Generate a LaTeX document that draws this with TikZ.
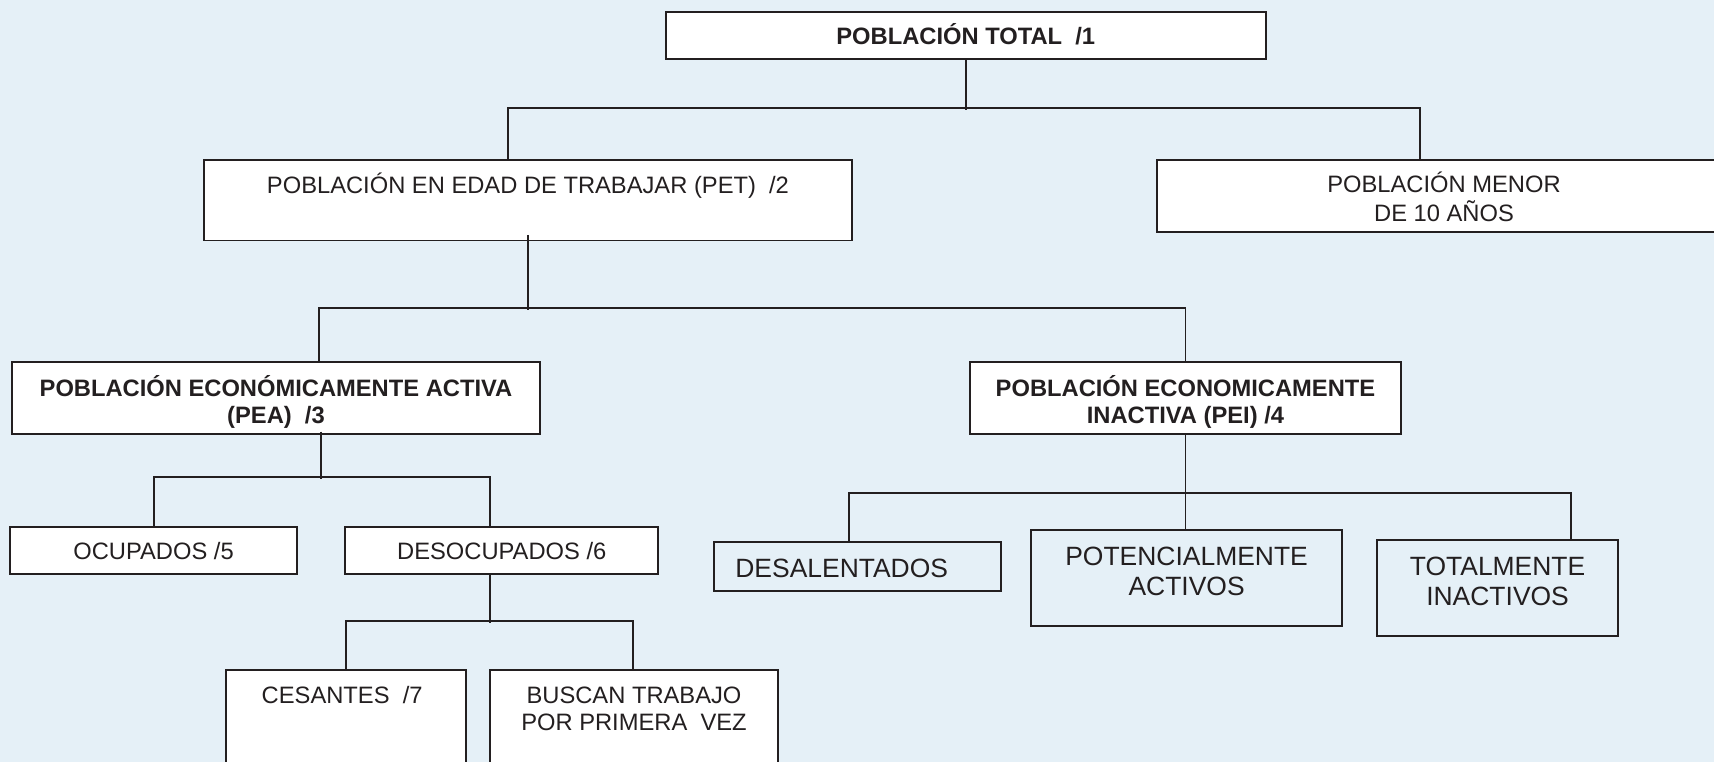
\documentclass[tikz,border=0pt]{standalone}
\usepackage{fontspec}
\setmainfont{Liberation Sans}
\definecolor{bg}{RGB}{229,240,247}
\definecolor{ink}{RGB}{35,31,32}
\newcommand{\T}[2]{\raisebox{#1}[\height][\depth]{\begin{tabular}{@{}c@{}}#2\end{tabular}}}
\begin{document}
\begin{tikzpicture}[x=1pt,y=-1pt,
  conn/.style={draw=ink, line width=1.8pt},
  box/.style={draw=ink, fill=white, line width=1.8pt, inner sep=0pt, text=ink, font=\fontsize{21.7}{24.5}\selectfont},
  bbox/.style={draw=ink, fill=bg, line width=1.8pt, inner sep=0pt, text=ink, font=\fontsize{24.2}{27.5}\selectfont},
  boldtext/.style={font=\fontsize{21.7}{25}\selectfont\bfseries}]
\fill[bg] (0,0) rectangle (1568,697);
\useasboundingbox (0,0) rectangle (1568,697);
\clip (0,0) rectangle (1568,697);

\node[box, boldtext, minimum width=549pt, minimum height=43pt] (tot) at (883.5,32.5) {\T{-2.5pt}{POBLACIÓN TOTAL\ \ /1}};
\node[box, minimum width=592pt, minimum height=74pt] (pet) at (483,183) {\T{12pt}{POBLACIÓN EN EDAD DE TRABAJAR (PET)\ \ /2}};
\node[box, minimum width=526pt, minimum height=66pt] (men) at (1321,179) {\T{-5pt}{POBLACIÓN MENOR\\DE 10 AÑOS}};
\node[box, boldtext, minimum width=483pt, minimum height=66pt] (pea) at (252.5,364) {\T{-5.5pt}{POBLACIÓN ECONÓMICAMENTE ACTIVA\\(PEA)\ \ /3}};
\node[box, boldtext, minimum width=395pt, minimum height=66pt] (pei) at (1084.5,364) {\T{-5.5pt}{POBLACIÓN ECONOMICAMENTE\\INACTIVA (PEI) /4}};
\node[box, minimum width=263pt, minimum height=43pt] (ocu) at (140.5,503.5) {\T{-3.5pt}{OCUPADOS /5}};
\node[box, minimum width=286pt, minimum height=43pt] (des) at (459,503.5) {\T{-3.5pt}{DESOCUPADOS /6}};
\node[box, minimum width=219pt, minimum height=120pt] (ces) at (316.5,673) {\T{34pt}{CESANTES\ \ /7\hspace*{7pt}}};
\node[box, minimum width=264pt, minimum height=120pt] (bus) at (580,673) {\T{22pt}{BUSCAN TRABAJO\\POR PRIMERA\ \ VEZ}};
\node[bbox, minimum width=263pt, minimum height=45pt] (dsl) at (784.5,518.5) {\T{-4.5pt}{DESALENTADOS\hspace*{29pt}}};
\node[bbox, minimum width=285pt, minimum height=88pt] (pot) at (1085.5,529) {\T{3.4pt}{POTENCIALMENTE\\ACTIVOS}};
\node[bbox, minimum width=220pt, minimum height=88pt] (tin) at (1370,538) {\T{2.9pt}{TOTALMENTE\\INACTIVOS}};

\draw[conn] (tot.south) -- ++(0,46);
\draw[conn] ([xshift=-18pt]pet.north) -- ++(0,-46) -| ([xshift=-22pt]men.north);
\draw[conn] ([yshift=6pt]pet.south) -- ++(0,69);
\draw[conn] ([xshift=39.5pt]pea.north) -- ++(0,-48) -| (pei.north);
\draw[conn] ([xshift=41.5pt,yshift=3pt]pea.south) -- ++(0,43);
\draw[conn] (ocu.north) -- ++(0,-45) -| ([xshift=-11pt]des.north);
\draw[conn] ([xshift=-11pt]des.south) -- ++(0,44);
\draw[conn] (ces.north) -- ++(0,-44) -| ([xshift=-1pt]bus.north);
\draw[conn] (pei.south) -- ++(0,88);
\draw[conn] ([xshift=-7.5pt]dsl.north) -- ++(0,-44) -| ([xshift=67pt]tin.north);
\end{tikzpicture}
\end{document}
